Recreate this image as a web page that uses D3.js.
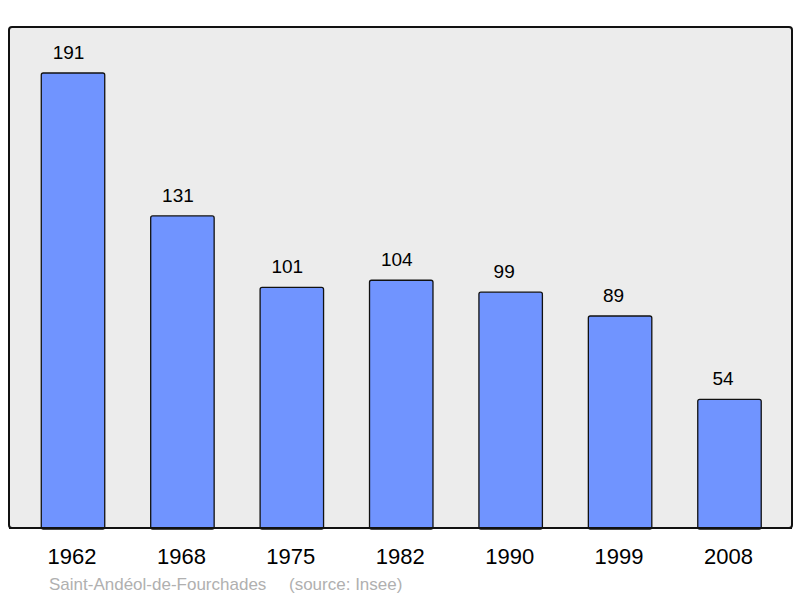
<!DOCTYPE html>
<html><head><meta charset="utf-8">
<script src="https://cdn.jsdelivr.net/npm/d3@7"></script>
<style>body{margin:0;background:#fff}</style>
</head><body>
<script>
const years = ["1962","1968","1975","1982","1990","1999","2008"];
const population = [191,131,101,104,99,89,54];
const place = "Saint-Andéol-de-Fourchades";
const source = "(source: Insee)";

const W=800,H=598;
const svg=d3.select("body").append("svg").attr("width",W).attr("height",H);
const font="Liberation Sans, Arial, sans-serif";

const frame={x:9,y:27,w:783,h:501};
svg.append("rect").attr("x",frame.x).attr("y",frame.y).attr("width",frame.w).attr("height",frame.h)
  .attr("rx",3).attr("fill","#ececec").attr("stroke","#111").attr("stroke-width",2);

const x=d3.scaleBand().domain(years).range([18.3,784.2]).paddingInner(0.42).paddingOuter(0.21);
const y=d3.scaleLinear().domain([0,191]).range([528,73]);

const g=svg.append("g");
g.selectAll("rect.bar").data(population).join("rect").attr("class","bar")
  .attr("x",(d,i)=>x(years[i])).attr("width",x.bandwidth())
  .attr("y",d=>y(d)).attr("height",d=>y(0)-y(d)+1)
  .attr("rx",2).attr("fill","#7094ff").attr("stroke","#111").attr("stroke-width",1.3);

svg.append("line").attr("x1",frame.x).attr("x2",frame.x+frame.w).attr("y1",528).attr("y2",528)
  .attr("stroke","#111").attr("stroke-width",2);

g.selectAll("text.val").data(population).join("text").attr("class","val")
  .attr("x",(d,i)=>x(years[i])+x.bandwidth()/2).attr("y",d=>y(d)-14)
  .attr("dx",d=>String(d).length>2?-4.5:-6.5)
  .attr("text-anchor","middle").attr("font-family",font).attr("font-size",19).attr("fill","#000")
  .text(d=>d);

const xa=svg.append("g");
xa.selectAll("text").data(years).join("text")
  .attr("x",d=>x(d)+x.bandwidth()/2-1).attr("y",564)
  .attr("text-anchor","middle").attr("font-family",font).attr("font-size",22).attr("fill","#000")
  .text(d=>d);

svg.append("text").attr("x",49).attr("y",590).attr("font-family",font).attr("font-size",17)
  .attr("fill","#b0b0b0").text(place);
svg.append("text").attr("x",289).attr("y",590).attr("font-family",font).attr("font-size",17)
  .attr("fill","#b0b0b0").text(source);
</script>
</body></html>
